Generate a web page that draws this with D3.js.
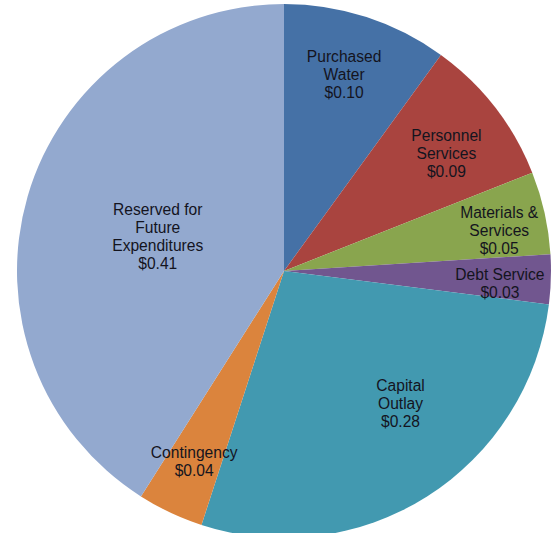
<!DOCTYPE html>
<html>
<head>
<meta charset="utf-8">
<script src="https://cdn.jsdelivr.net/npm/d3@7"></script>
<style>
  body { margin: 0; background: #fff; }
  svg { display: block; }
</style>
</head>
<body>
<svg id="pie"></svg>
<script>
// data
const categories = ['Purchased Water', 'Personnel Services', 'Materials & Services', 'Debt Service', 'Capital Outlay', 'Contingency', 'Reserved for Future Expenditures'];
const values = [0.10, 0.09, 0.05, 0.03, 0.28, 0.04, 0.41];
const labelLines = [
    ['Purchased', 'Water'],
    ['Personnel', 'Services'],
    ['Materials &', 'Services'],
    ['Debt Service'],
    ['Capital', 'Outlay'],
    ['Contingency'],
    ['Reserved for', 'Future', 'Expenditures']
];

// style / layout
const colors = ['#4571a6', '#a9443f', '#89a54e', '#71568f', '#4299b0', '#db843d', '#93a9cf'];
const labelR = [0.77, 0.75, 0.82, 0.81, 0.66, 0.79, 0.49];   // label distance as fraction of radius
const labelDa = [-1, 2, 2, 1.5, -9, 0, -1];                 // angle nudge, degrees

const width = 555, height = 533;
const cx = 284, cy = 271, radius = 267;
const lineH = 18;

const svg = d3.select('#pie').attr('width', width).attr('height', height);
const g = svg.append('g').attr('transform', 'translate(' + cx + ',' + cy + ')');

const data = categories.map((c, i) => ({ name: c, value: values[i], lines: labelLines[i], i: i }));

const pie = d3.pie().value(d => d.value).sort(null);
const arc = d3.arc().innerRadius(0).outerRadius(radius);

const arcs = pie(data);

g.selectAll('path.slice').data(arcs).enter().append('path')
    .attr('class', 'slice')
    .attr('d', arc)
    .attr('fill', d => colors[d.data.i]);

const labels = g.selectAll('text.label').data(arcs).enter().append('text')
    .attr('class', 'label')
    .attr('text-anchor', 'middle')
    .style('font-family', '"Liberation Sans", Arial, sans-serif')
    .style('font-size', '15.6px')
    .attr('fill', '#14141e')
    .attr('transform', d => {
        const a = (d.startAngle + d.endAngle) / 2 + labelDa[d.data.i] * Math.PI / 180;
        const r = labelR[d.data.i] * radius;
        return 'translate(' + (r * Math.sin(a)) + ',' + (-r * Math.cos(a)) + ')';
    });

labels.each(function (d) {
    const lines = d.data.lines.concat(['$' + d3.format('.2f')(d.data.value)]);
    const t = d3.select(this);
    const y0 = -(lines.length - 1) * lineH / 2;
    lines.forEach((l, k) => {
        t.append('tspan')
            .attr('x', 0)
            .attr('y', y0 + k * lineH)
            .attr('dy', '0.35em')
            .text(l);
    });
});
</script>
</body>
</html>
